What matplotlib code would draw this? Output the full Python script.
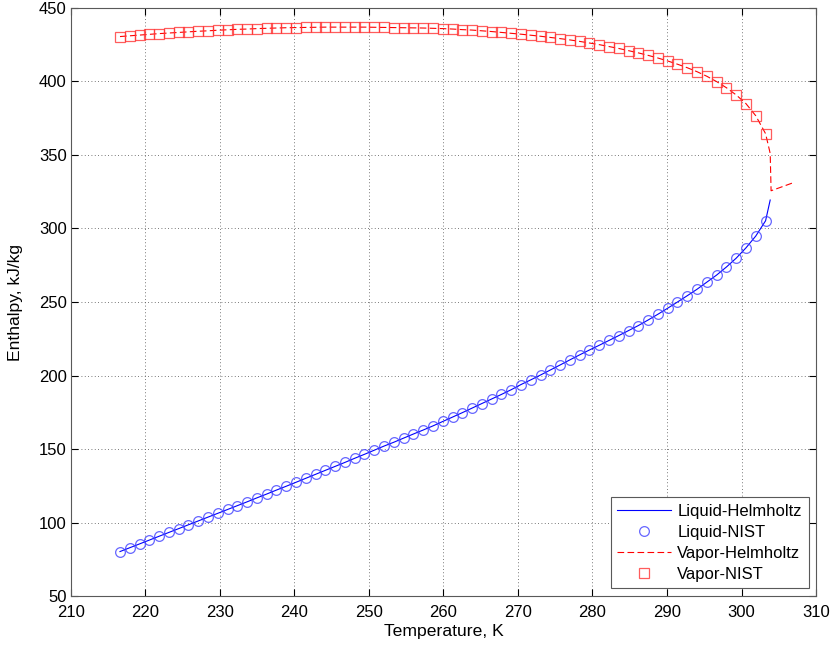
# Saturated CO2 enthalpy: Helmholtz equation of state vs NIST tables
import numpy as np
import matplotlib.pyplot as plt

plt.rcParams['font.family'] = ['Liberation Sans', 'DejaVu Sans']
plt.rcParams['font.size'] = 12

# saturation temperatures (K)
T_sat = [216.60, 217.91, 219.23, 220.54, 221.85, 223.16, 224.48, 225.79, 227.10, 228.41,
         229.73, 231.04, 232.35, 233.66, 234.98, 236.29, 237.60, 238.91, 240.23, 241.54,
         242.85, 244.16, 245.48, 246.79, 248.10, 249.41, 250.73, 252.04, 253.35, 254.66,
         255.98, 257.29, 258.60, 259.91, 261.23, 262.54, 263.85, 265.16, 266.48, 267.79,
         269.10, 270.41, 271.73, 273.04, 274.35, 275.66, 276.98, 278.29, 279.60, 280.91,
         282.23, 283.54, 284.85, 286.16, 287.48, 288.79, 290.10, 291.41, 292.73, 294.04,
         295.35, 296.66, 297.98, 299.29, 300.60, 301.91, 303.23]

# saturated liquid enthalpy (kJ/kg)
h_liq = [80.4, 83.0, 85.6, 88.2, 90.8, 93.4, 96.0, 98.6, 101.2, 103.8,
         106.4, 109.0, 111.6, 114.2, 116.9, 119.5, 122.2, 124.8, 127.5, 130.2,
         132.9, 135.6, 138.3, 141.0, 143.8, 146.5, 149.3, 152.1, 154.7, 157.5,
         160.3, 163.0, 165.8, 168.8, 171.8, 174.8, 177.9, 181.0, 184.1, 187.2,
         190.4, 193.9, 197.1, 200.4, 203.8, 207.2, 210.7, 214.1, 217.4, 220.6,
         223.9, 227.2, 230.6, 234.0, 237.8, 241.7, 245.8, 250.0, 254.3, 258.7,
         263.5, 268.3, 273.8, 279.8, 286.8, 294.8, 305.2]

# saturated vapor enthalpy (kJ/kg)
h_vap = [430.4, 430.9, 431.4, 431.9, 432.4, 432.8, 433.2, 433.6, 434.0, 434.3,
         434.7, 435.0, 435.3, 435.5, 435.8, 436.0, 436.2, 436.4, 436.5, 436.6,
         436.7, 436.8, 436.8, 436.8, 436.8, 436.8, 436.7, 436.6, 436.5, 436.4,
         436.3, 436.2, 436.0, 435.8, 435.5, 435.1, 434.8, 434.3, 433.8, 433.2,
         432.6, 432.0, 431.3, 430.6, 429.8, 429.0, 428.1, 427.1, 426.0, 424.9,
         423.6, 422.3, 420.8, 419.3, 417.6, 415.8, 413.8, 411.6, 409.2, 406.5,
         403.4, 399.8, 395.6, 390.7, 384.8, 376.6, 364.4]

# Helmholtz curves carry on toward the critical point
T_liq_end = [303.85]
h_liq_end = [319.3]
T_vap_end = [303.85, 303.97, 306.96]
h_vap_end = [351.0, 325.6, 331.1]

T_liq_helm = T_sat + T_liq_end
h_liq_helm = h_liq + h_liq_end
T_vap_helm = T_sat + T_vap_end
h_vap_helm = h_vap + h_vap_end

fig = plt.figure(figsize=(8.32, 6.48), dpi=100)
ax = fig.add_axes([0.0851, 0.0798, 0.8957, 0.9083])

ax.plot(T_liq_helm, h_liq_helm, '-', color='b', lw=0.8, label='Liquid-Helmholtz')
ax.plot(T_sat, h_liq, 'o', mfc='none', mec=(0.25, 0.25, 1.0, 0.8), mew=0.9, ms=7,
        label='Liquid-NIST')
ax.plot(T_vap_helm, h_vap_helm, color='r', lw=0.8, linestyle=(0, (6, 3)),
        label='Vapor-Helmholtz')
ax.plot(T_sat, h_vap, 's', mfc='none', mec=(1.0, 0.2, 0.2, 0.8), mew=0.9, ms=6.5,
        label='Vapor-NIST')

ax.set_xlim(210, 310)
ax.set_ylim(50, 450)
ax.set_xticks(np.arange(210, 311, 10))
ax.set_yticks(np.arange(50, 451, 50))
ax.set_xlabel('Temperature, K', fontsize=12.6, labelpad=3)
ax.set_ylabel('Enthalpy, kJ/kg', fontsize=12.6, labelpad=11)

ax.grid(True, color='0.3', linestyle=(0, (1, 3)), lw=0.6)
ax.tick_params(direction='in', length=5, top=True, right=True)
ax.tick_params(axis='x', pad=6.5)
ax.tick_params(axis='y', pad=3)
for s in ax.spines.values():
    s.set_color('0.35')
    s.set_linewidth(0.8)

leg = ax.legend(loc='lower right', bbox_to_anchor=(0.99, 0.0136), borderaxespad=0,
                fancybox=False, framealpha=1, edgecolor='0.35', handlelength=3.2,
                handletextpad=0.4, labelspacing=0.35, borderpad=0.4)
leg.get_frame().set_linewidth(0.8)

fig.savefig('out.png', dpi=100)
